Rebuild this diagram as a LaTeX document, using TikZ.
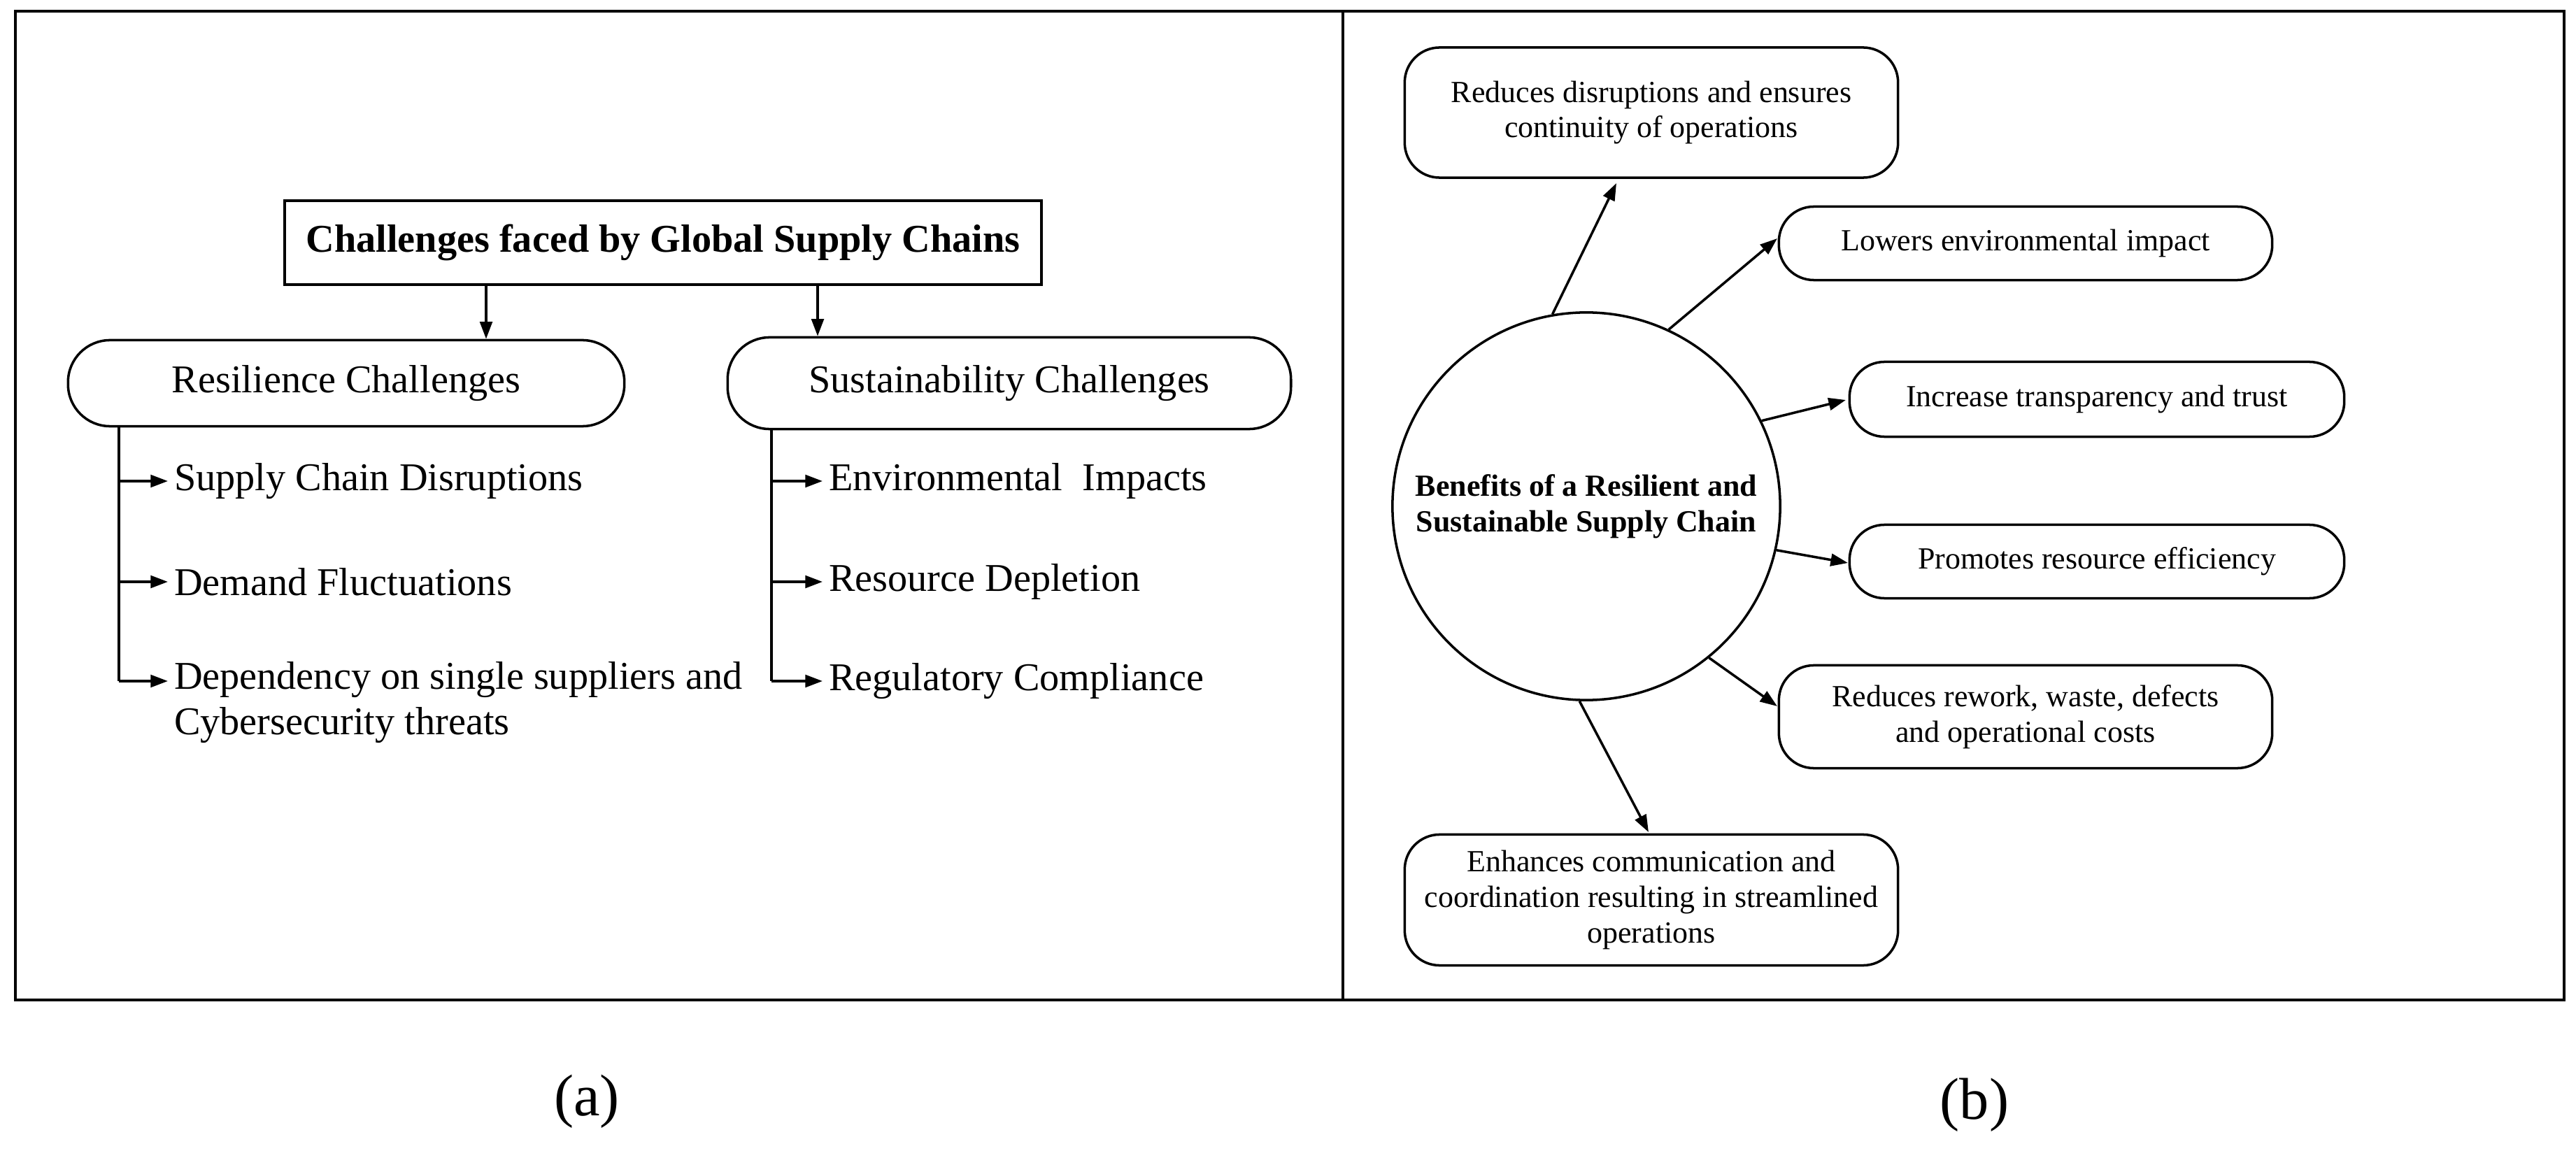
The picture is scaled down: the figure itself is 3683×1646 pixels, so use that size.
\documentclass[tikz,border=0pt]{standalone}
\usepackage{fontspec}
\setmainfont{Liberation Serif}
\usetikzlibrary{arrows.meta}
\begin{document}
\begin{tikzpicture}[x=0.01cm,y=-0.01cm,
  line width=1pt,
  arr/.style={-{Triangle[length=7pt,width=5pt]}},
  pill/.style={draw,rounded corners=0.6cm,inner sep=0pt,font=\fontsize{16}{18}\selectfont},
  item/.style={anchor=west,inner sep=0pt,outer sep=0.09cm,align=left,font=\fontsize{16}{18.5}\selectfont},
  bbox/.style={draw,rounded corners=0.5cm,inner sep=0pt,align=center,font=\fontsize{12.5}{14.5}\selectfont},
  sublabel/.style={font=\fontsize{24}{28}\selectfont}]
\useasboundingbox (0,0) rectangle (3683,1646);
\draw[line width=0.9pt] (22,16) rectangle (3666,1430);
\draw[line width=0.9pt] (1920,16) -- (1920,1430);
% (a)
\node[draw,minimum width=10.81cm,minimum height=1.2cm,inner sep=0pt,font=\bfseries\fontsize{16}{18}\selectfont] (title) at (948,347) {Challenges faced by Global Supply Chains};
\node[pill,minimum width=7.95cm,minimum height=1.23cm] (rc) at (495,548) {Resilience Challenges};
\node[pill,minimum width=8.05cm,minimum height=1.31cm] (sc) at (1443,548) {Sustainability Challenges};
\coordinate (a1) at (695,0);
\coordinate (a2) at (1169,0);
\draw[arr] (title.south -| a1) -- (rc.north -| a1);
\draw[arr] (title.south -| a2) -- (sc.north -| a2);
\node[item] (l1) at (240,688) {Supply Chain Disruptions};
\node[item] (l2) at (240,832) {Demand Fluctuations};
\node[item] (l3) at (240,1005) {Dependency on single suppliers and\\Cybersecurity threats};
\coordinate (lv) at (170,974);
\node[item] (r1) at (1176,688) {Environmental\ \ Impacts};
\node[item] (r2) at (1176,832) {Resource Depletion};
\node[item] (r3) at (1176,974) {Regulatory Compliance};
\coordinate (rv) at (1103,974);
\draw (rc.south -| lv) -- (lv);
\draw[arr] (l1.west -| lv) -- (l1.west);
\draw[arr] (l2.west -| lv) -- (l2.west);
\draw[arr] (lv) -- (lv -| l1.west);
\draw (sc.south -| rv) -- (rv);
\draw[arr] (r1.west -| rv) -- (r1.west);
\draw[arr] (r2.west -| rv) -- (r2.west);
\draw[arr] (rv) -- (r3.west);
\node[sublabel] (capa) at (839,1575) {(a)};
% (b)
\node[draw,circle,minimum size=5.54cm,inner sep=0pt,align=center,font=\bfseries\fontsize{12.5}{14.5}\selectfont] (c) at (2268,724) {Benefits of a Resilient and\\Sustainable Supply Chain};
\node[bbox,minimum width=7.05cm,minimum height=1.86cm] (b1) at (2361,161) {Reduces disruptions and ensures\\continuity of operations};
\node[bbox,minimum width=7.05cm,minimum height=1.05cm] (b2) at (2896,348) {Lowers environmental impact};
\node[bbox,minimum width=7.07cm,minimum height=1.07cm] (b3) at (2998,571) {Increase transparency and trust};
\node[bbox,minimum width=7.07cm,minimum height=1.05cm] (b4) at (2998,803) {Promotes resource efficiency};
\node[bbox,minimum width=7.05cm,minimum height=1.47cm] (b5) at (2896,1025) {Reduces rework, waste, defects\\and operational costs};
\node[bbox,minimum width=7.05cm,minimum height=1.87cm] (b6) at (2361,1287) {Enhances communication and\\coordination resulting in streamlined\\operations};
\coordinate (e1) at (2311,262);
\coordinate (e2) at (2541,341);
\coordinate (e3) at (2639,572);
\coordinate (e4) at (2642,805);
\coordinate (e5) at (2541,1010);
\coordinate (e6) at (2357,1190);
\draw[arr] (c.100) -- (e1);
\draw[arr] (c.65) -- (e2);
\draw[arr] (c.26) -- (e3);
\draw[arr] (c.-13) -- (e4);
\draw[arr] (c.-51) -- (e5);
\draw[arr] (c.-92) -- (e6);
\node[sublabel] (capb) at (2823,1580) {(b)};
\end{tikzpicture}
\end{document}
